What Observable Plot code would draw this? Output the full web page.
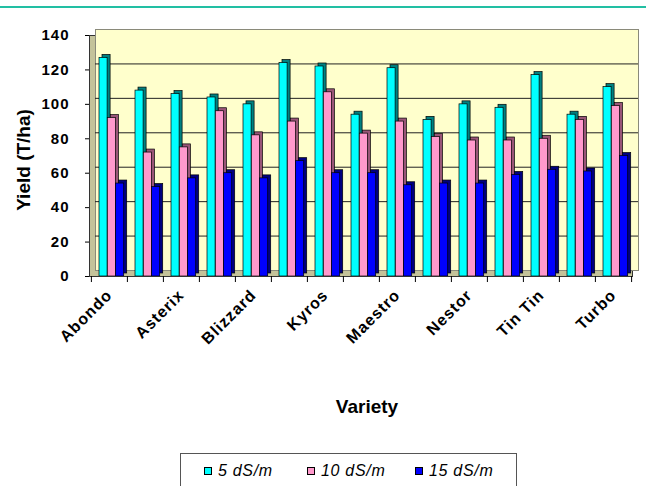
<!DOCTYPE html>
<html>
<head>
<meta charset="utf-8">
<script src="https://cdn.jsdelivr.net/npm/d3@7"></script>
<script src="https://cdn.jsdelivr.net/npm/@observablehq/plot@0.6"></script>
<style>
  html, body { margin: 0; padding: 0; background: #fff; }
  #wrap { position: relative; width: 646px; height: 486px; overflow: hidden; font-family: "Liberation Sans", Arial, sans-serif; }
  #topline { position: absolute; left: 0; top: 6px; width: 646px; height: 2px; background: #22bfa3; }
  #chart { position: absolute; left: 0; top: 0; }
  #legend { position: absolute; left: 180px; top: 453px; width: 337px; height: 40px; border: 1px solid #555; box-sizing: border-box; background: #fff; }
  .item { position: absolute; top: 8px; font-style: italic; font-size: 16px; color: #000; white-space: nowrap; letter-spacing: 0.7px; }
  .sw { display: inline-block; width: 6px; height: 6px; border: 1px solid #000; margin-right: 6px; vertical-align: 1px; }
  #chart svg g[aria-label="x-axis tick label"] text { letter-spacing: 1px; font-size: 16px; }
  #chart svg g[aria-label="y-axis tick label"] text { letter-spacing: 1px; }
</style>
</head>
<body>
<div id="wrap">
  <div id="topline"></div>
  <div id="chart"></div>
  <div id="legend"></div>
</div>
<script>
// ---- data ----
const categories = ["Abondo", "Variety 2", "Asterix", "Variety 4", "Blizzard", "Variety 6", "Kyros", "Variety 8",
                    "Maestro", "Variety 10", "Nestor", "Variety 12", "Tin Tin", "Variety 14", "Turbo"];
const tickLabels = ["Abondo", "Asterix", "Blizzard", "Kyros", "Maestro", "Nestor", "Tin Tin", "Turbo"];
const seriesNames = ["5 dS/m", "10 dS/m", "15 dS/m"];
const yield5  = [127, 108, 106, 104, 100, 124, 122, 94, 121, 91, 100, 98, 117, 94, 110];
const yield10 = [92, 72, 75, 96, 82, 90, 107, 83, 90, 81, 79, 79, 80, 91, 99];
const yield15 = [54, 52, 57, 60, 57, 67, 60, 60, 53, 54, 54, 59, 62, 61, 70];
const yTicks = [0, 20, 40, 60, 80, 100, 120, 140];
const yLabel = "Yield (T/ha)";
const xLabel = "Variety";

// ---- styling ----
const frontColors = ["#00ffff", "#ff99cc", "#0000ff"];
const sideColors = ["#008080", "#995577", "#000080"];
const W = 646, H = 440;
const mL = 89, mR = 14, mT = 35, mB = H - 276;
const band = (W - mL - mR) / categories.length;
const depth = 6;

const seriesVals = [yield5, yield10, yield15];
const tables = seriesVals.map(vals => categories.map((c, i) => ({variety: c, value: vals[i]})));

const barW = 8.3, start = 8, side = 3;
const barMarks = [];
tables.forEach((t, s) => {
  const l = start + s * barW;
  const r = band - (l + barW);
  barMarks.push(Plot.barY(t, {x: "variety", y: "value", fill: sideColors[s], stroke: "#000", strokeWidth: 0.7,
    insetLeft: l, insetRight: r, dx: side, dy: -side}));
  barMarks.push(Plot.barY(t, {x: "variety", y: "value", fill: frontColors[s], stroke: "#000", strokeWidth: 0.7,
    insetLeft: l, insetRight: r}));
});

const lastCat = categories[categories.length - 1];

const chart = Plot.plot({
  width: W,
  height: H,
  marginLeft: mL,
  marginRight: mR,
  marginTop: mT,
  marginBottom: mB,
  style: {fontFamily: "'Liberation Sans', Arial, sans-serif", fontSize: "15px", fontWeight: "bold", color: "#000", background: "transparent"},
  x: {domain: categories, padding: 0, label: null, tickSize: 0, tickRotate: -45, tickPadding: 16,
      tickFormat: d => tickLabels.includes(d) ? d : ""},
  y: {domain: [0, 140], ticks: yTicks, label: null, tickSize: 4, tickPadding: 16},
  marks: [
    Plot.frame({fill: "#c4c39a", stroke: "#333", strokeWidth: 1}),
    Plot.frame({fill: "#ffffcc", stroke: "#8a8a7a", strokeWidth: 1, dx: depth, dy: -depth}),
    Plot.ruleY(yTicks.slice(1, -1), {y: d => d, stroke: "#222", strokeWidth: 1, dx: depth, dy: -depth}),
    ...barMarks,
    Plot.ruleY([0], {y: d => d, stroke: "#333", strokeWidth: 1}),
    Plot.ruleX(categories, {x: d => d, dx: -band / 2, y1: 0, y2: -3.5, stroke: "#000"}),
    Plot.ruleX([lastCat], {x: d => d, dx: band / 2, y1: 0, y2: -3.5, stroke: "#000"}),
    Plot.text([yLabel], {text: d => d, frameAnchor: "left", textAnchor: "middle", rotate: -90, dx: -66, dy: 4, fontSize: 19, fontWeight: "bold", letterSpacing: 0.5}),
    Plot.text([xLabel], {text: d => d, frameAnchor: "bottom", textAnchor: "middle", dx: 6, dy: 136, fontSize: 19, fontWeight: "bold", letterSpacing: 0.6})
  ]
});
document.getElementById("chart").appendChild(chart);

// legend
const legend = document.getElementById("legend");
const lefts = [23, 126, 234];
seriesNames.forEach((name, i) => {
  const it = document.createElement("div");
  it.className = "item";
  it.style.left = lefts[i] + "px";
  it.innerHTML = `<span class="sw" style="background:${frontColors[i]}"></span>${name}`;
  legend.appendChild(it);
});
</script>
</body>
</html>
